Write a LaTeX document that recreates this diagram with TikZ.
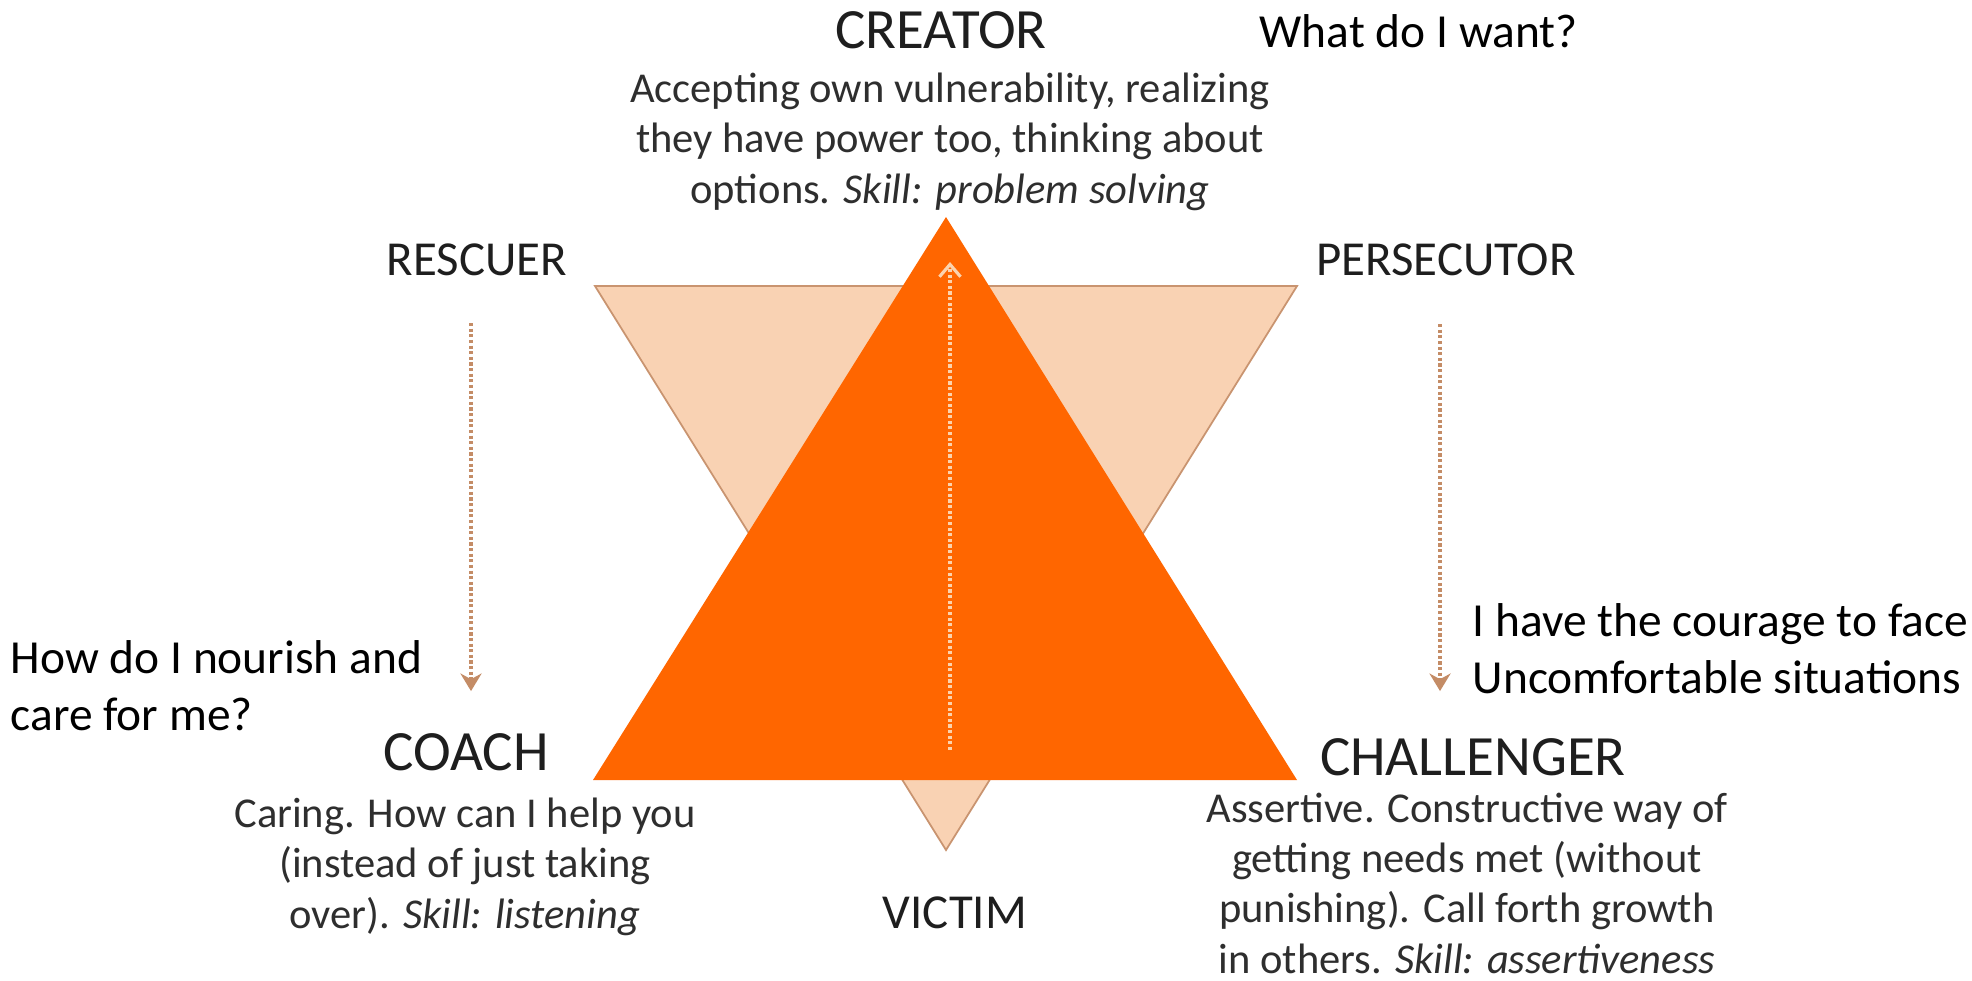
\documentclass[tikz,border=0pt]{standalone}
\usepackage{fontspec}
\setmainfont{Carlito}
\usetikzlibrary{arrows.meta,positioning}

\definecolor{dramaorange}{HTML}{FF6600}
\definecolor{dramapeach}{HTML}{F9D2B3}
\definecolor{dramaedge}{HTML}{C99470}
\definecolor{dotbrown}{HTML}{C48C66}
\definecolor{dotlight}{HTML}{FBD3AE}
\definecolor{labelgray}{HTML}{1E1E1E}
\definecolor{descgray}{HTML}{2E2E2E}

\begin{document}
\begin{tikzpicture}[>={Stealth},
  bigrole/.style={text=labelgray,inner sep=0pt,anchor=base,font=\fontsize{16.2}{19}\selectfont},
  smallrole/.style={text=labelgray,inner sep=0pt,anchor=base,font=\fontsize{13.9}{16}\selectfont},
  desc/.style={text=descgray,inner sep=0pt,anchor=base,align=center,font=\fontsize{12.1}{14.3}\selectfont},
  note/.style={text=black,inner sep=0pt,anchor=base west,align=left,font=\fontsize{13.5}{16.2}\selectfont},
  sidearrow/.style={dotbrown,line width=0.9pt,dash pattern=on 0.9pt off 0.7pt,-{Stealth[length=5pt,width=6pt]}},
  midarrow/.style={dotlight,line width=0.9pt,dash pattern=on 0.9pt off 0.7pt,-{Straight Barb[length=3.5pt,width=6pt]}}]
\fill[white] (0,0) rectangle (19.72,-9.80);
\useasboundingbox (0,0) rectangle (19.72,-9.80);

% the two triangles
\filldraw[fill=dramapeach,draw=dramaedge,line width=0.5pt] (5.95,-2.86) -- (12.97,-2.86) -- (9.46,-8.50) -- cycle;
\fill[dramaorange] (9.46,-2.17) -- (12.97,-7.80) -- (5.93,-7.80) -- cycle;

% roles
\node[bigrole] (creator) at (9.41,-0.48) {CREATOR};
\node[smallrole] (rescuer) at (4.77,-2.75) {RESCUER};
\node[smallrole] (persecutor) at (14.46,-2.75) {PERSECUTOR};
\node[bigrole] (coach) at (4.66,-7.70) {COACH};
\node[bigrole] (challenger) at (14.73,-7.75) {CHALLENGER};
\node[smallrole] (victim) at (9.55,-9.28) {VICTIM};

% descriptions (base = last line)
\node[desc] (creatordesc) at (9.50,-2.03) {Accepting own vulnerability, realizing\\they have power too, thinking about\\options. \textit{Skill: problem solving}};
\node[desc] (coachdesc) at (4.65,-9.28) {Caring. How can I help you\\(instead of just taking\\over). \textit{Skill: listening}};
\node[desc] (challengerdesc) at (14.67,-9.73) {Assertive. Constructive way of\\getting needs met (without\\punishing). Call forth growth\\in others. \textit{Skill: assertiveness}};

% questions
\node[note] (want) at (12.59,-0.47) {What do I want?};
\node[note] (nourish) at (0.10,-7.30) {How do I nourish and\\care for me?};
\node[note] (courage) at (14.72,-6.93) {I have the courage to face\\Uncomfortable situations};

% dotted arrows
\draw[sidearrow] (rescuer.south) ++(-0.06,-0.47) -- ++(0,-3.68);
\draw[sidearrow] (persecutor.south) ++(-0.06,-0.48) -- ++(0,-3.67);
\coordinate (vstart) at (9.50,-7.50);
\coordinate (vend) at (9.50,-2.62);
\draw[midarrow] (vstart) -- (vend);
\end{tikzpicture}
\end{document}
